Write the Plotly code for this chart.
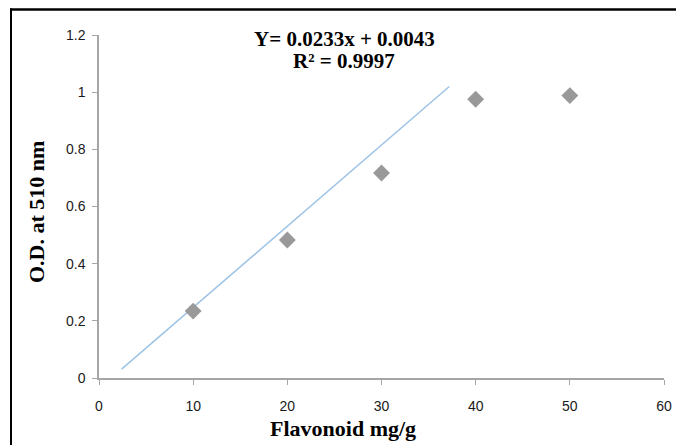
import plotly.graph_objects as go

# Data
conc = [10, 20, 30, 40, 50]
od = [0.234, 0.483, 0.717, 0.975, 0.988]
trend_x = [2.4, 37.2]
trend_y = [0.031, 1.02]
x_ticks = [0, 10, 20, 30, 40, 50, 60]
y_ticks = [0, 0.2, 0.4, 0.6, 0.8, 1, 1.2]
y_tick_text = ["0", "0.2", "0.4", "0.6", "0.8", "1", "1.2"]
eq_text = "Y= 0.0233x + 0.0043"
r2_text = "R² = 0.9997"

W, H = 684, 445
OFF = 8  # page body margin offset
# plot area in page pixels: x 99..664, y 35..378
L = 99 - OFF
T = 35 - OFF
R = W - (664 - OFF)
B = H - (378 - OFF)
pw, ph = W - L - R, H - T - B

def px_x(p):
    return (p - OFF - L) / pw

def px_y(p):
    return (H - B - (p - OFF)) / ph

fig = go.Figure()
fig.add_trace(go.Scatter(x=trend_x, y=trend_y, mode="lines",
                         line=dict(color="#9DC3E6", width=1.5),
                         showlegend=False, hoverinfo="skip"))
fig.add_trace(go.Scatter(x=conc, y=od, mode="markers",
                         marker=dict(symbol="diamond", size=13, color="#999999"),
                         showlegend=False))

axis_common = dict(showgrid=False, zeroline=False, showline=True,
                   linecolor="#A6A6A6", linewidth=1.5,
                   ticks="outside", tickcolor="#A6A6A6", ticklen=5, tickwidth=1,
                   tickfont=dict(family="Liberation Sans, Arial", size=14, color="#1a1a1a"))

fig.update_xaxes(range=[0, 60], tickvals=x_ticks, ticklabelstandoff=9, **axis_common)
fig.update_yaxes(range=[0, 1.2], tickvals=y_ticks, ticktext=y_tick_text,
                 ticklabelstandoff=4, **axis_common)

serif_eq = dict(family="Liberation Serif, Times New Roman", size=21, color="black")
serif_t = dict(family="Liberation Serif, Times New Roman", size=22, color="black")

def add_text(text, x, y, font, angle=0):
    fig.add_annotation(text=text, x=px_x(x), y=px_y(y), xref="paper", yref="paper",
                       xanchor="center", yanchor="middle", showarrow=False,
                       font=font, textangle=angle)

add_text("<b>" + eq_text + "</b>", 344, 39, serif_eq)
add_text("<b>" + r2_text + "</b>", 344, 61, serif_eq)
add_text("<b>Flavonoid mg/g</b>", 343, 429, serif_t)
add_text("<b>O.D. at 510 nm</b>", 36, 212, serif_t, -90)

# frame lines (top and left)
fig.add_shape(type="line", xref="paper", yref="paper",
              x0=px_x(10), x1=px_x(W + 20), y0=px_y(9.5), y1=px_y(9.5),
              line=dict(color="black", width=2.5))
fig.add_shape(type="line", xref="paper", yref="paper",
              x0=px_x(11), x1=px_x(11), y0=px_y(8.5), y1=px_y(H + 20),
              line=dict(color="black", width=2))

fig.update_layout(width=W, height=H, margin=dict(l=L, r=R, t=T, b=B),
                  paper_bgcolor="white", plot_bgcolor="white")

fig.write_html("out.html")
